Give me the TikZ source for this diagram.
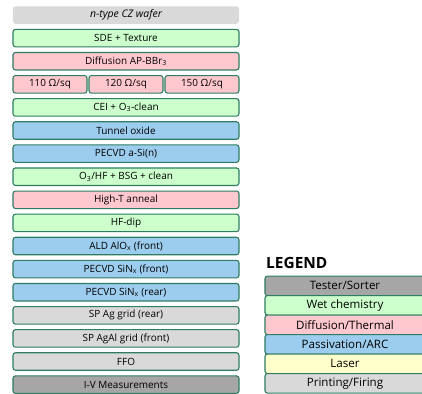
\documentclass[tikz,border=0pt]{standalone}
\usepackage{fontspec}
\setmainfont{Open Sans}
\definecolor{EdgeClr}{HTML}{2E7D62}
\definecolor{WetClr}{HTML}{CCFFCC}
\definecolor{ThermClr}{HTML}{FFC8CF}
\definecolor{PassClr}{HTML}{9DCDEE}
\definecolor{LaserClr}{HTML}{FFFFCC}
\definecolor{PrintClr}{HTML}{D9D9D9}
\definecolor{TestClr}{HTML}{A6A6A6}

\tikzset{
  stepbox/.style={draw=EdgeClr,line width=1.1pt,rounded corners=2.5pt,
    minimum width=226bp,minimum height=17.5bp,inner sep=0pt,
    font=\fontsize{10}{11}\selectfont},
  sheetbox/.style={stepbox,minimum width=74bp},
  legendbox/.style={stepbox,minimum width=160bp,minimum height=19.5bp,
    font=\fontsize{11.6}{13}\selectfont}
}

\begin{document}
\begin{tikzpicture}[x=1bp,y=-1bp]
\useasboundingbox (0,0) rectangle (422,394);
\clip (0,0) rectangle (422,394);

% process sequence
\node[stepbox,draw=none,fill=PrintClr,font=\fontsize{10.5}{11}\selectfont\itshape] (wafer) at (126,15) {n-type CZ wafer};
\node[stepbox,fill=WetClr] (texture) at (126,38.1) {SDE + Texture};
\node[stepbox,fill=ThermClr] (diff) at (126,61.2) {Diffusion AP-BBr\textsubscript{3}};

\node[sheetbox,fill=ThermClr] (rsa) at (50,84.3) {110 Ω/sq};
\node[sheetbox,fill=ThermClr] (rsb) at (126,84.3) {120 Ω/sq};
\node[sheetbox,fill=ThermClr] (rsc) at (202,84.3) {150 Ω/sq};

\node[stepbox,fill=WetClr] (cei) at (126,107.4) {CEI + O\textsubscript{3}-clean};
\node[stepbox,fill=PassClr] (tox) at (126,130.5) {Tunnel oxide};
\node[stepbox,fill=PassClr] (asi) at (126,153.6) {PECVD a-Si(n)};
\node[stepbox,fill=WetClr] (bsg) at (126,176.7) {O\textsubscript{3}/HF + BSG + clean};
\node[stepbox,fill=ThermClr] (anneal) at (126,199.8) {High-T anneal};
\node[stepbox,fill=WetClr] (hfdip) at (126,222.9) {HF-dip};
\node[stepbox,fill=PassClr] (alox) at (126,246) {ALD AlO\textsubscript{x} (front)};
\node[stepbox,fill=PassClr] (sinf) at (126,269.1) {PECVD SiN\textsubscript{x} (front)};
\node[stepbox,fill=PassClr] (sinr) at (126,292.2) {PECVD SiN\textsubscript{x} (rear)};
\node[stepbox,fill=PrintClr] (spr) at (126,315.3) {SP Ag grid (rear)};
\node[stepbox,fill=PrintClr] (spf) at (126,338.4) {SP AgAl grid (front)};
\node[stepbox,fill=PrintClr] (ffo) at (126,361.5) {FFO};
\node[stepbox,fill=TestClr] (iv) at (126,384.6) {I-V Measurements};

% legend
\node[anchor=west,inner sep=0pt,font=\fontsize{15.5}{17}\selectfont\bfseries] (leg) at (266,263) {LEGEND};
\node[legendbox,fill=TestClr] (lgtest) at (345,285.8) {Tester/Sorter};
\node[legendbox,fill=WetClr] (lgwet) at (345,305.3) {Wet chemistry};
\node[legendbox,fill=ThermClr] (lgtherm) at (345,324.8) {Diffusion/Thermal};
\node[legendbox,fill=PassClr] (lgpass) at (345,344.3) {Passivation/ARC};
\node[legendbox,fill=LaserClr] (lglaser) at (345,363.8) {Laser};
\node[legendbox,fill=PrintClr] (lgprint) at (345,383.3) {Printing/Firing};

\end{tikzpicture}
\end{document}
